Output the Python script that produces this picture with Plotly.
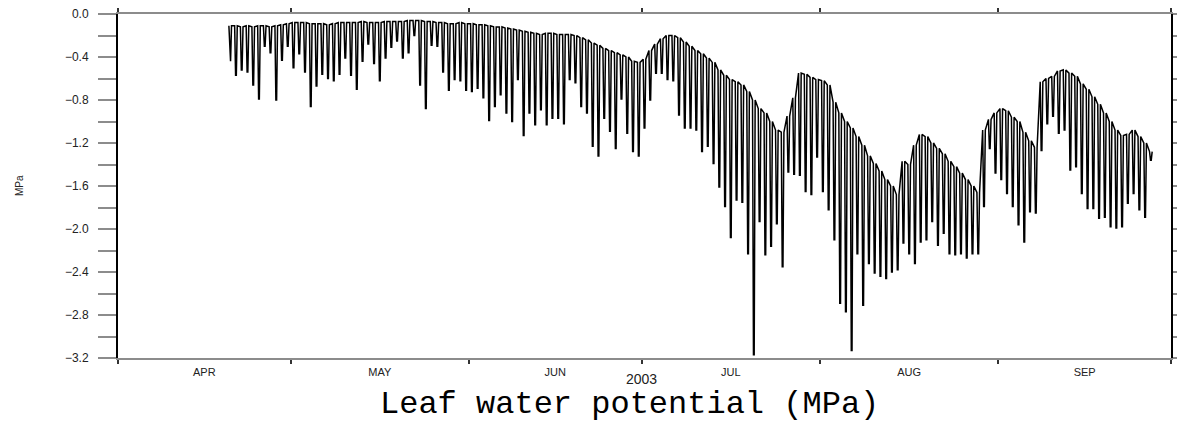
import pandas as pd
import plotly.graph_objects as go

# ---------------- data (MPa), one value per day ----------------
start_date = "2003-04-20"

# pre-dawn (daily maximum) leaf water potential
pre_apr = [-0.11, -0.11, -0.12, -0.11, -0.12, -0.11, -0.11, -0.12, -0.11, -0.10, -0.09]
pre_may = [-0.08, -0.08, -0.08, -0.09, -0.09, -0.09, -0.10, -0.09, -0.08, -0.08,
           -0.08, -0.08, -0.07, -0.08, -0.08, -0.08, -0.07, -0.07, -0.07, -0.07,
           -0.06, -0.06, -0.06, -0.07, -0.07, -0.08, -0.08, -0.09, -0.09, -0.08, -0.09]
pre_jun = [-0.09, -0.10, -0.10, -0.11, -0.12, -0.12, -0.13, -0.14, -0.15, -0.16,
           -0.17, -0.18, -0.19, -0.18, -0.18, -0.19, -0.19, -0.19, -0.20, -0.22,
           -0.24, -0.27, -0.29, -0.32, -0.34, -0.36, -0.38, -0.40, -0.44, -0.45]
pre_jul = [-0.42, -0.34, -0.28, -0.23, -0.20, -0.20, -0.22, -0.26, -0.30, -0.34,
           -0.37, -0.41, -0.45, -0.52, -0.57, -0.61, -0.63, -0.66, -0.72, -0.80,
           -0.88, -0.92, -1.00, -1.08, -1.10, -0.95, -0.78, -0.55, -0.56, -0.59, -0.61]
pre_aug = [-0.62, -0.66, -0.82, -0.92, -1.00, -1.06, -1.14, -1.22, -1.32, -1.39,
           -1.46, -1.54, -1.60, -1.68, -1.37, -1.40, -1.22, -1.12, -1.14, -1.20,
           -1.25, -1.30, -1.37, -1.42, -1.48, -1.54, -1.60, -1.66, -1.08, -0.98, -0.92]
pre_sep = [-0.88, -0.90, -0.96, -1.00, -1.10, -1.18, -1.24, -0.63, -0.60, -0.58,
           -0.53, -0.52, -0.55, -0.58, -0.65, -0.70, -0.77, -0.84, -0.92, -1.00,
           -1.08, -1.13, -1.12, -1.08, -1.14, -1.20, -1.28]

# midday (daily minimum) leaf water potential
min_apr = [-0.44, -0.57, -0.52, -0.54, -0.66, -0.79, -0.30, -0.36, -0.80, -0.43, -0.30]
min_may = [-0.50, -0.37, -0.54, -0.86, -0.67, -0.56, -0.60, -0.62, -0.56, -0.41,
           -0.57, -0.70, -0.44, -0.28, -0.46, -0.62, -0.41, -0.31, -0.25, -0.41,
           -0.36, -0.20, -0.66, -0.88, -0.29, -0.30, -0.54, -0.71, -0.61, -0.62, -0.71]
min_jun = [-0.72, -0.69, -0.78, -0.99, -0.86, -0.75, -0.92, -1.00, -0.61, -1.13,
           -0.92, -1.03, -0.89, -1.03, -0.97, -0.97, -1.02, -0.61, -0.64, -0.86,
           -0.92, -1.23, -1.32, -0.97, -1.09, -1.25, -0.79, -1.11, -1.28, -1.32]
min_jul = [-1.06, -0.80, -0.55, -0.55, -0.61, -0.62, -0.94, -1.06, -1.06, -1.08,
           -1.28, -1.23, -1.39, -1.61, -1.79, -2.08, -1.73, -1.75, -2.23, -3.17,
           -1.93, -2.24, -2.16, -1.95, -2.35, -1.47, -1.49, -1.50, -1.65, -1.68, -1.33]
min_aug = [-1.65, -1.82, -2.10, -2.69, -2.77, -3.13, -2.23, -2.71, -2.32, -2.41,
           -2.44, -2.46, -2.40, -2.38, -2.13, -2.23, -2.32, -2.12, -2.10, -1.93,
           -2.15, -2.04, -2.23, -2.24, -2.23, -2.27, -2.23, -2.23, -1.79, -1.25, -1.48]
min_sep = [-1.54, -1.67, -1.79, -1.96, -2.12, -1.84, -1.85, -1.27, -1.02, -0.95,
           -1.11, -1.08, -1.45, -1.42, -1.67, -1.81, -1.81, -1.90, -1.89, -1.98,
           -1.99, -1.98, -1.76, -1.67, -1.82, -1.89, -1.36]

# sampling hours of the daily cycle: pre-dawn, start/end of midday low, evening recovery
hour_predawn = 6.5
hour_low_start = 10.5
hour_low_end = 13.5
hour_evening = 17.5

# axes
month_starts = ["2003-04-01", "2003-05-01", "2003-06-01", "2003-07-01",
                "2003-08-01", "2003-09-01", "2003-10-01"]
month_labels = ["APR", "MAY", "JUN", "JUL", "AUG", "SEP"]
year_label = "2003"
ytick_vals = [0.0, -0.4, -0.8, -1.2, -1.6, -2.0, -2.4, -2.8, -3.2]
ytick_text = ["0.0", "\u22120.4", "\u22120.8", "\u22121.2", "\u22121.6",
              "\u22122.0", "\u22122.4", "\u22122.8", "\u22123.2"]
yminor_vals = [-0.2, -0.6, -1.0, -1.4, -1.8, -2.2, -2.6, -3.0]
title_text = "Leaf water potential (MPa)"
ytitle_text = "MPa"

# ---------------- build series ----------------
pre_all = pre_apr + pre_may + pre_jun + pre_jul + pre_aug + pre_sep
min_all = min_apr + min_may + min_jun + min_jul + min_aug + min_sep
assert len(pre_all) == len(min_all)
days = pd.date_range(start_date, periods=len(pre_all), freq="D")

xs, ys = [], []
for d, p, m in zip(days, pre_all, min_all):
    xs += [d + pd.Timedelta(hours=hour_predawn),
           d + pd.Timedelta(hours=hour_low_start),
           d + pd.Timedelta(hours=hour_low_end),
           d + pd.Timedelta(hours=hour_evening)]
    ys += [p, m, m, p]

starts = pd.to_datetime(month_starts)
mid_months = [starts[i] + (starts[i + 1] - starts[i]) / 2 for i in range(len(month_labels))]

fig = go.Figure()
fig.add_trace(go.Scatter(x=xs, y=ys, mode="lines",
                         line=dict(color="#000000", width=1.5),
                         hoverinfo="skip", showlegend=False))

tick_font = dict(family="Liberation Sans, Arial, sans-serif", size=12, color="#222222")

fig.update_layout(
    width=1177, height=423,
    margin=dict(l=118, r=6, t=14, b=65, autoexpand=False),
    paper_bgcolor="white", plot_bgcolor="white",
    showlegend=False,
    xaxis=dict(
        type="date", automargin=False,
        range=[starts[0], starts[-1]],
        tickmode="array", tickvals=mid_months, ticktext=month_labels,
        ticks="", tickfont=dict(family="Liberation Sans, Arial, sans-serif", size=11, color="#222222"),
        ticklabelstandoff=3,
        minor=dict(tickmode="array", tickvals=list(starts), ticks="outside",
                   ticklen=4, tickwidth=1.5, tickcolor="#333333"),
        showgrid=False, zeroline=False,
        showline=True, linecolor="#8c8c8c", linewidth=2, mirror="ticks",
    ),
    yaxis=dict(
        automargin=False,
        range=[-3.2, 0.0],
        tickmode="array", tickvals=ytick_vals, ticktext=ytick_text,
        ticks="outside", ticklen=18, tickwidth=1.5, tickcolor="#8c8c8c",
        minor=dict(tickmode="array", tickvals=yminor_vals, ticks="outside",
                   ticklen=18, tickwidth=1.5, tickcolor="#8c8c8c"),
        tickfont=tick_font, ticklabelstandoff=7,
        showgrid=False, zeroline=False,
        showline=True, linecolor="#000000", linewidth=2, mirror="ticks",
    ),
    annotations=[
        dict(text=year_label, xref="paper", yref="paper", x=0.4976, y=-0.06,
             xanchor="center", yanchor="middle", showarrow=False,
             font=dict(family="Liberation Sans, Arial, sans-serif", size=14, color="#222222")),
        dict(text=title_text, xref="paper", yref="paper", x=0.4857, y=-0.136,
             xanchor="center", yanchor="middle", showarrow=False,
             font=dict(family="Liberation Mono, Courier New, monospace", size=32, color="#000000")),
        dict(text=ytitle_text, xref="paper", yref="paper", x=-0.094, y=0.5,
             xanchor="center", yanchor="middle", showarrow=False, textangle=-90,
             font=dict(family="Liberation Sans, Arial, sans-serif", size=10, color="#222222")),
    ],
)

fig.write_html("out.html")
